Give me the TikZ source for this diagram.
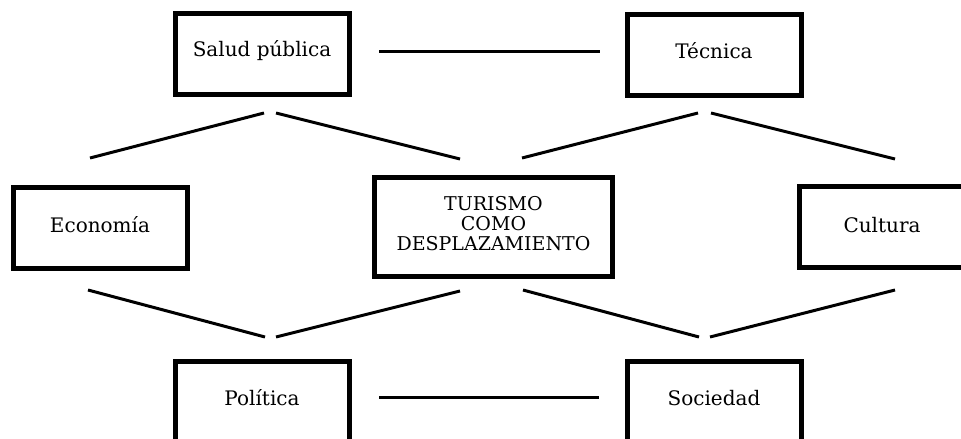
\documentclass[tikz,border=0pt]{standalone}
\usepackage{fontspec}
\setmainfont{DejaVu Serif}
\begin{document}
\begin{tikzpicture}[x=1pt,y=-1pt,
  box/.style={draw=black,line width=5pt,fill=white,minimum width=174pt,minimum height=81pt,inner sep=0pt},
  bigbox/.style={box,minimum width=238pt,minimum height=99pt},
  lbl/.style={inner sep=0pt,font=\fontsize{20}{20}\selectfont},
  biglbl/.style={inner sep=0pt,align=center,font=\fontsize{19}{20}\selectfont},
  link/.style={line width=3pt,line cap=butt}]
\useasboundingbox (0,0) rectangle (961,439);
\clip (0,0) rectangle (961,439);
\node[box] (salud) at (262.5,54) {};
\node[lbl] (saludtxt) at (262,51) {Salud pública};
\node[box] (tecnica) at (714.5,54.5) {};
\node[lbl] (tecnicatxt) at (714,51) {Técnica};
\node[box] (economia) at (100.5,227.5) {};
\node[lbl] (economiatxt) at (100,225) {Economía};
\node[box] (cultura) at (886,227) {};
\node[lbl] (culturatxt) at (882,225) {Cultura};
\node[bigbox] (centro) at (493.5,227) {};
\node[biglbl] (centrotxt) at (493.5,224) {TURISMO\\COMO\\DESPLAZAMIENTO};
\node[box] (politica) at (262,401.5) {};
\node[lbl] (politicatxt) at (262,398) {Política};
\node[box] (sociedad) at (714.5,402) {};
\node[lbl] (sociedadtxt) at (714,398) {Sociedad};
% connector end points
\coordinate (h1a) at (379,51); \coordinate (h1b) at (600,51);
\coordinate (h2a) at (379,397); \coordinate (h2b) at (599,397);
\coordinate (d1a) at (90,158); \coordinate (d1b) at (264,113);
\coordinate (d2a) at (276,113); \coordinate (d2b) at (460,159);
\coordinate (d3a) at (522,158); \coordinate (d3b) at (698,113);
\coordinate (d4a) at (711,113); \coordinate (d4b) at (895,159);
\coordinate (d5a) at (88,290); \coordinate (d5b) at (265,337);
\coordinate (d6a) at (276,337); \coordinate (d6b) at (460,291);
\coordinate (d7a) at (523,290); \coordinate (d7b) at (699,337);
\coordinate (d8a) at (710,337); \coordinate (d8b) at (895,290);
\foreach \p in {h1,h2,d1,d2,d3,d4,d5,d6,d7,d8}{\draw[link] (\p a) -- (\p b);}
\end{tikzpicture}
\end{document}
